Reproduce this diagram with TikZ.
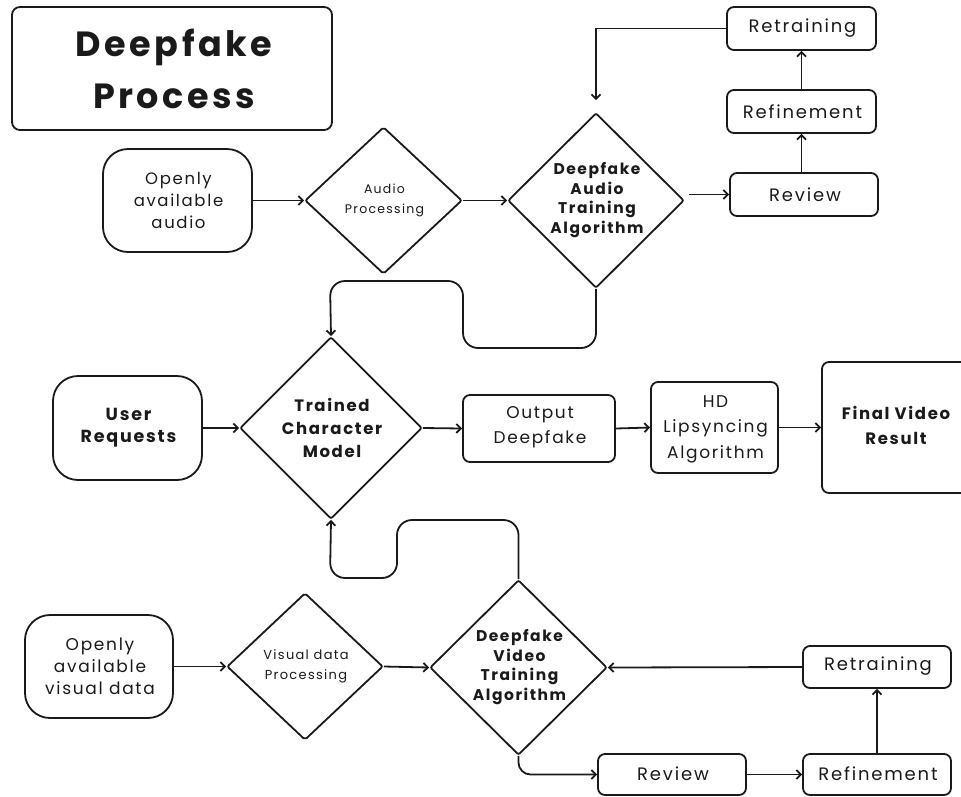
\documentclass[tikz,border=0pt]{standalone}
\usepackage{fontspec}
\setmainfont{Poppins}[LetterSpace=10]
\usetikzlibrary{shapes.geometric,arrows.meta,calc}
\definecolor{ink}{HTML}{1A1A1A}
\begin{document}
\begin{tikzpicture}[x=1pt,y=-1pt,
  every node/.style={text=ink},
  rbox/.style={draw=ink,line width=1.8pt,rounded corners=#1,rectangle,inner sep=0pt},
  rbox/.default=7pt,
  dia/.style={draw=ink,line width=1.8pt,diamond,inner sep=0pt,rounded corners=2pt},
  txt/.style={align=center,inner sep=0pt,font=\fontsize{16.5}{23}\selectfont},
  ltxt/.style={align=center,inner sep=0pt,font=\fontsize{18}{23}\selectfont},
  btxt/.style={align=center,inner sep=0pt,font=\fontsize{16}{21}\selectfont\bfseries},
  stxt/.style={align=center,inner sep=0pt,font=\fontsize{12.5}{20}\selectfont},
  arr/.style={draw=ink,line width=1.8pt,-{Straight Barb[length=4.5pt,width=9pt]}},
  loop/.style={arr,rounded corners=15pt}]
\useasboundingbox (0,0) rectangle (961,796);

% title
\node[rbox=8pt,minimum width=320pt,minimum height=123pt] (title) at (172,68.5) {};
\node[align=center,inner sep=0pt,font=\fontsize{35}{52}\selectfont\bfseries] (titlet) at (174,69) {Deepfake\\Process};

% audio branch
\node[rbox=25pt,minimum width=149pt,minimum height=103pt] (oaa) at (177.5,200.5) {};
\node[txt,font=\fontsize{16.5}{22}\selectfont] (oaat) at (178.5,200.5) {Openly\\available\\audio};
\node[dia,minimum width=157pt,minimum height=147pt] (ap) at (383.5,200.5) {};
\node[stxt] (apt) at (384.5,200) {Audio\\Processing};
\node[dia,minimum width=176pt,minimum height=175pt] (data) at (596,200.5) {};
\node[btxt,font=\fontsize{15.5}{19.5}\selectfont\bfseries] (datat) at (597,200) {Deepfake\\Audio\\Training\\Algorithm};
\node[rbox,minimum width=148pt,minimum height=43pt] (rev1) at (804,194.5) {};
\node[ltxt] (rev1t) at (805,194.5) {Review};
\node[rbox,minimum width=149pt,minimum height=43pt] (ref1) at (801.5,111.5) {};
\node[ltxt] (ref1t) at (802.5,111.5) {Refinement};
\node[rbox,minimum width=149pt,minimum height=43pt] (ret1) at (801.5,28.5) {};
\node[ltxt] (ret1t) at (802.5,28.5) {Retraining};

% middle row
\node[rbox=25pt,minimum width=149pt,minimum height=104pt] (ur) at (127.5,428) {};
\node[btxt,font=\fontsize{17.5}{22}\selectfont\bfseries] (urt) at (128.5,428) {User\\Requests};
\node[dia,minimum width=182pt,minimum height=182pt] (tcm) at (331,428) {};
\node[btxt,font=\fontsize{16.5}{23}\selectfont\bfseries] (tcmt) at (332,428) {Trained\\Character\\Model};
\node[rbox,minimum width=152pt,minimum height=67pt] (out) at (539,428.5) {};
\node[txt,font=\fontsize{17}{25}\selectfont] (outt) at (540,427) {Output\\Deepfake};
\node[rbox,minimum width=127pt,minimum height=91pt] (hd) at (714.5,427.5) {};
\node[txt,font=\fontsize{17}{25.5}\selectfont] (hdt) at (715.5,429) {HD\\Lipsyncing\\Algorithm};
\node[rbox,minimum width=153pt,minimum height=131pt] (fvr) at (898.5,427.5) {};
\node[btxt,font=\fontsize{16.5}{25}\selectfont\bfseries] (fvrt) at (896,425) {Final Video\\Result};

% video branch
\node[rbox=25pt,minimum width=148pt,minimum height=103pt] (ovd) at (99,666.5) {};
\node[txt,font=\fontsize{17}{22}\selectfont] (ovdt) at (100,666) {Openly\\available\\visual data};
\node[dia,minimum width=156pt,minimum height=147pt] (vp) at (305,666.5) {};
\node[stxt,font=\fontsize{13}{20}\selectfont] (vpt) at (306,666) {Visual data\\Processing};
\node[dia,minimum width=177pt,minimum height=175pt] (vdata) at (518.5,667.5) {};
\node[btxt,font=\fontsize{15.5}{19.5}\selectfont\bfseries] (vdatat) at (519.5,667) {Deepfake\\Video\\Training\\Algorithm};
\node[rbox,minimum width=148pt,minimum height=41pt] (rev2) at (672,774.5) {};
\node[ltxt] (rev2t) at (673,773.5) {Review};
\node[rbox,minimum width=148pt,minimum height=41pt] (ref2) at (877,774.5) {};
\node[ltxt] (ref2t) at (878,773.5) {Refinement};
\node[rbox,minimum width=148pt,minimum height=42pt] (ret2) at (877,667) {};
\node[ltxt] (ret2t) at (878,666) {Retraining};

% connectors: audio
\draw[arr] (oaa.east) -- (ap.west);
\draw[arr] (ap.east) -- (data.west);
\draw[arr] ($(rev1.west -| data.east)+(4,0)$) -- (rev1.west);
\draw[arr] (rev1.north -| ref1.south) -- (ref1.south);
\draw[arr] (ref1.north) -- (ret1.south);
\draw[arr,shorten >=12pt] (ret1.west) -| (data.north);
\draw[loop] (data.south) -- (596,348) -- (463,348) -- (463,281) -- (330,281) -- (tcm.north);

% connectors: middle
\draw[arr] (ur.east) -- (tcm.west);
\draw[arr] (tcm.east) -- (out.west);
\draw[arr] (out.east) -- (hd.west);
\draw[arr] (hd.east) -- (fvr.west);

% connectors: video
\draw[loop] (vdata.north) -- (518.5,520) -- (397,520) -- (397,578) -- (330,578) -- (tcm.south);
\draw[arr] (ovd.east) -- (vp.west);
\draw[arr] (vp.east) -- (vdata.west);
\draw[arr,rounded corners=12pt] (vdata.south) |- (rev2.west);
\draw[arr] (rev2.east) -- (ref2.west);
\draw[arr] (ref2.north) -- (ret2.south);
\draw[arr] (ret2.west) -- (vdata.east);
\end{tikzpicture}
\end{document}
